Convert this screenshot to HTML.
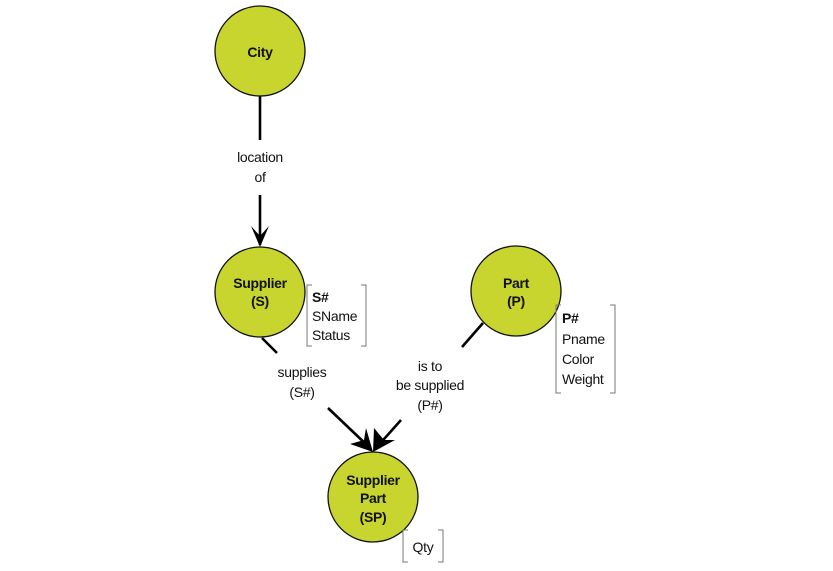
<!DOCTYPE html>
<html><head><meta charset="utf-8"><style>
html,body{margin:0;padding:0;background:#fff;}
svg{display:block;}
text{font-family:"Liberation Sans",Arial,sans-serif;font-size:14px;fill:#111;letter-spacing:-0.3px;}
.b{font-weight:bold;}
</style></head><body>
<svg width="833" height="571" viewBox="0 0 833 571" xmlns="http://www.w3.org/2000/svg">
<g stroke="#000" stroke-width="2.6" fill="none">
<line x1="260" y1="96" x2="260" y2="140"/>
<line x1="260" y1="195" x2="260" y2="245"/>
<line x1="262" y1="338" x2="277" y2="353"/>
<line x1="328" y1="408" x2="370" y2="448"/>
<line x1="483" y1="323" x2="462" y2="347"/>
<line x1="401" y1="420" x2="376" y2="448"/>
</g>
<g fill="#000">
<polygon points="251,226 260,247 269,226 260,236"/>
<polygon points="350,444 373,452 366,428 364,440"/>
<polygon points="374,428 373,452 395,440 384,440"/>
</g>
<g fill="#c8d52f" stroke="#111" stroke-width="1.3">
<circle cx="260" cy="51" r="45"/>
<circle cx="260" cy="292" r="45"/>
<circle cx="516" cy="291" r="45"/>
<circle cx="373" cy="497" r="45"/>
</g>
<g stroke="#777" stroke-width="1" fill="none">
<path d="M312,285 h-5 v61 h5 M361,285 h5 v61 h-5"/>
<path d="M561,305 h-5 v88 h5 M610,305 h5 v88 h-5"/>
<path d="M408,530 h-5 v32 h5 M438,530 h5 v32 h-5"/>
</g>
<g text-anchor="middle">
<text x="260" y="57" class="b">City</text>
<text x="260" y="288" class="b">Supplier</text>
<text x="260" y="306" class="b">(S)</text>
<text x="516" y="288" class="b">Part</text>
<text x="516" y="306" class="b">(P)</text>
<text x="373" y="485" class="b">Supplier</text>
<text x="373" y="503" class="b">Part</text>
<text x="373" y="522" class="b">(SP)</text>
<text x="260" y="162">location</text>
<text x="260" y="182">of</text>
<text x="302" y="377">supplies</text>
<text x="302" y="397">(S#)</text>
<text x="430" y="371">is to</text>
<text x="430" y="390">be supplied</text>
<text x="430" y="410">(P#)</text>
<text x="423" y="552">Qty</text>
</g>
<text x="312" y="302" class="b">S#</text>
<text x="312" y="321">SName</text>
<text x="312" y="340">Status</text>
<text x="562" y="323" class="b">P#</text>
<text x="562" y="344">Pname</text>
<text x="562" y="364">Color</text>
<text x="562" y="384">Weight</text>
</svg>
</body></html>
